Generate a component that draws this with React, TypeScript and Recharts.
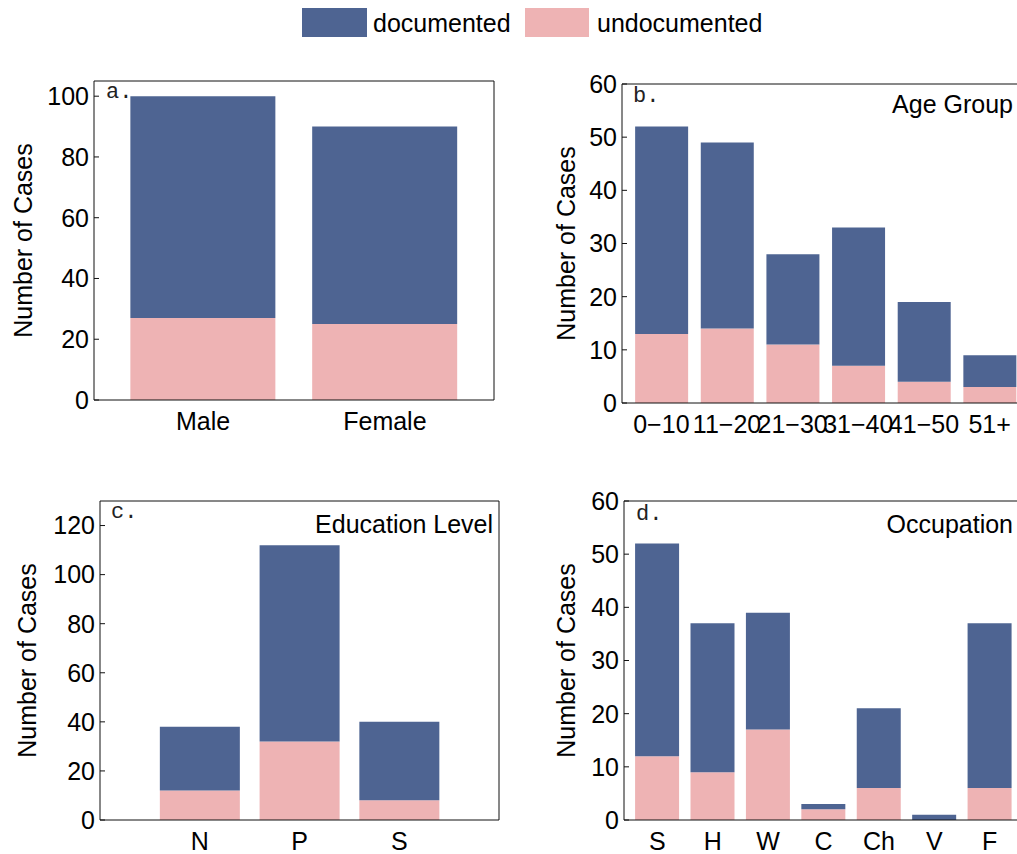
import React from 'react'
import { BarChart, Bar, XAxis, YAxis, Label } from 'recharts'

// colours
const BLUE = '#4e6492'
const PINK = '#eeb3b4'
const FONT = '"Liberation Sans", Arial, Helvetica, sans-serif'
const MONO = '"Liberation Mono", "Courier New", monospace'

// a. gender
const genderCats = ['Male', 'Female']
const genderUndoc = [27, 25]
const genderDoc = [73, 65]

// b. age group
const ageCats = ['0\u221210', '11\u221220', '21\u221230', '31\u221240', '41\u221250', '51+']
const ageUndoc = [13, 14, 11, 7, 4, 3]
const ageDoc = [39, 35, 17, 26, 15, 6]

// c. education level
const eduCats = ['N', 'P', 'S']
const eduUndoc = [12, 32, 8]
const eduDoc = [26, 80, 32]

// d. occupation
const occCats = ['S', 'H', 'W', 'C', 'Ch', 'V', 'F']
const occUndoc = [12, 9, 17, 2, 6, 0, 6]
const occDoc = [40, 28, 22, 1, 15, 1, 31]

const ticks100 = [0, 20, 40, 60, 80, 100]
const ticks60 = [0, 10, 20, 30, 40, 50, 60]
const ticks120 = [0, 20, 40, 60, 80, 100, 120]

const build = (cats: string[], undoc: number[], doc: number[]) =>
  cats.map((name, i) => ({ name, undocumented: undoc[i], documented: doc[i] }))

interface PanelProps {
  left: number
  top: number
  width: number
  height: number
  plot: { x0: number; y0: number; x1: number; y1: number }
  data: any[]
  domain: [number, number]
  ticks: number[]
  padFrac: number
  labelX: number
}

function Panel({ left, top, width, height, plot, data, domain, ticks, padFrac, labelX }: PanelProps) {
  const plotW = plot.x1 - plot.x0
  const band = plotW / (data.length + 2 * padFrac)
  const pad = band * padFrac
  const axisColor = '#111'
  return (
    <div style={{ position: 'absolute', left, top }}>
      <BarChart
        width={width}
        height={height}
        data={data}
        barCategoryGap="10%"
        margin={{ top: plot.y0 - top, right: left + width - plot.x1, bottom: 0, left: 0 }}
        style={{ fontFamily: FONT }}
      >
        <XAxis
          xAxisId="bottom"
          dataKey="name"
          height={top + height - plot.y1}
          padding={{ left: pad, right: pad }}
          interval={0}
          tickLine={false}
          tickSize={0}
          tickMargin={12}
          axisLine={{ stroke: axisColor }}
          tick={{ fill: '#000', fontSize: 25 }}
        />
        <XAxis
          xAxisId="top"
          dataKey="name"
          orientation="top"
          mirror
          padding={{ left: pad, right: pad }}
          interval={0}
          tick={false}
          tickSize={5}
          tickLine={{ stroke: axisColor }}
          axisLine={{ stroke: axisColor }}
        />
        <YAxis
          yAxisId="left"
          width={plot.x0 - left}
          domain={domain}
          ticks={ticks}
          interval={0}
          tickSize={-5}
          tickMargin={10}
          tickLine={{ stroke: axisColor }}
          axisLine={{ stroke: axisColor }}
          tick={{ fill: '#000', fontSize: 25 }}
        >
          <Label
            value="Number of Cases"
            angle={-90}
            position="insideLeft"
            offset={labelX - left}
            style={{ textAnchor: 'middle', fontSize: 25, fill: '#000', fontFamily: FONT }}
          />
        </YAxis>
        <YAxis
          yAxisId="right"
          orientation="right"
          mirror
          domain={domain}
          ticks={ticks}
          interval={0}
          tick={false}
          tickSize={5}
          tickLine={{ stroke: axisColor }}
          axisLine={{ stroke: axisColor }}
        />
        <Bar
          xAxisId="bottom"
          yAxisId="left"
          dataKey="undocumented"
          stackId="s"
          fill={PINK}
          isAnimationActive={false}
        />
        <Bar
          xAxisId="bottom"
          yAxisId="left"
          dataKey="documented"
          stackId="s"
          fill={BLUE}
          isAnimationActive={false}
        />
      </BarChart>
    </div>
  )
}

export default function App() {
  return (
    <div
      style={{
        position: 'fixed',
        left: 0,
        top: 0,
        width: 1017,
        height: 854,
        overflow: 'hidden',
        background: '#fff',
      }}
    >
      <Panel
        left={0}
        top={50}
        width={510}
        height={400}
        plot={{ x0: 94, y0: 81, x1: 494, y1: 400 }}
        data={build(genderCats, genderUndoc, genderDoc)}
        domain={[0, 105]}
        ticks={ticks100}
        padFrac={0.1}
        labelX={23}
      />
      <Panel
        left={520}
        top={50}
        width={520}
        height={400}
        plot={{ x0: 622, y0: 84, x1: 1029, y1: 403 }}
        data={build(ageCats, ageUndoc, ageDoc)}
        domain={[0, 60]}
        ticks={ticks60}
        padFrac={0.1}
        labelX={566}
      />
      <Panel
        left={0}
        top={470}
        width={510}
        height={384}
        plot={{ x0: 100, y0: 501, x1: 499, y1: 820 }}
        data={build(eduCats, eduUndoc, eduDoc)}
        domain={[0, 130]}
        ticks={ticks120}
        padFrac={0.5}
        labelX={27}
      />
      <Panel
        left={520}
        top={470}
        width={520}
        height={384}
        plot={{ x0: 624, y0: 501, x1: 1023, y1: 820 }}
        data={build(occCats, occUndoc, occDoc)}
        domain={[0, 60]}
        ticks={ticks60}
        padFrac={0.1}
        labelX={566}
      />

      {/* legend, panel letters and titles */}
      <svg
        width={1017}
        height={854}
        style={{ position: 'absolute', left: 0, top: 0, pointerEvents: 'none' }}
      >
        <rect x={302} y={8} width={65} height={29} fill={BLUE} />
        <text x={373} y={32} fontSize={25} fontFamily={FONT} fill="#000">documented</text>
        <rect x={525} y={8} width={64} height={29} fill={PINK} />
        <text x={597} y={32} fontSize={25} fontFamily={FONT} fill="#000">undocumented</text>

        <text x={106} y={98} fontSize={22} fontFamily={MONO} fill="#222">a.</text>
        <text x={633} y={102} fontSize={22} fontFamily={MONO} fill="#222">b.</text>
        <text x={111} y={518} fontSize={22} fontFamily={MONO} fill="#222">c.</text>
        <text x={636} y={520} fontSize={22} fontFamily={MONO} fill="#222">d.</text>

        <text x={1013} y={113} fontSize={25} fontFamily={FONT} fill="#000" textAnchor="end">Age Group</text>
        <text x={493} y={533} fontSize={25} fontFamily={FONT} fill="#000" textAnchor="end">Education Level</text>
        <text x={1013} y={533} fontSize={25} fontFamily={FONT} fill="#000" textAnchor="end">Occupation</text>
      </svg>
    </div>
  )
}
